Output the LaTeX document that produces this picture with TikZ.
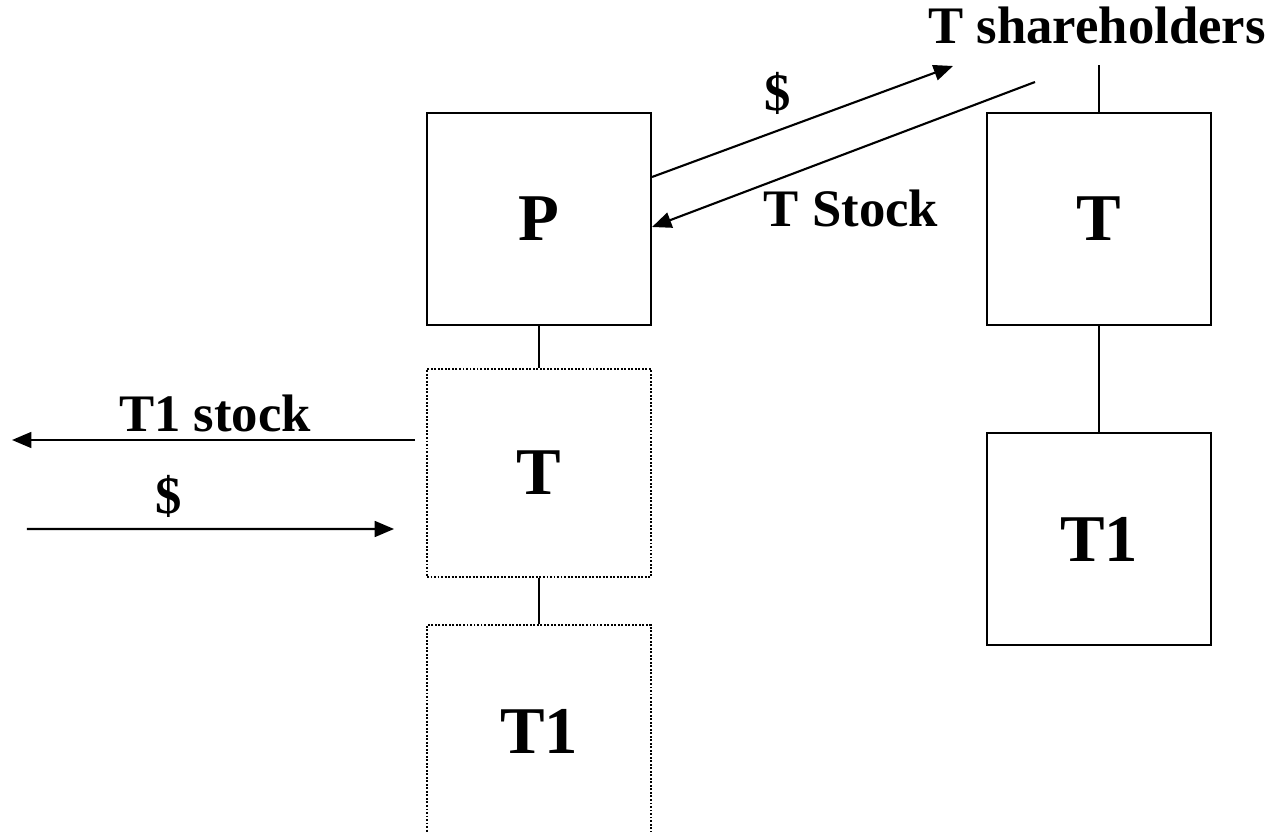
\documentclass[tikz,border=0pt]{standalone}
\usepackage{fontspec}
\setmainfont{Liberation Serif}
\usetikzlibrary{arrows.meta}

\begin{document}
\begin{tikzpicture}[
    box/.style={draw, line width=1.2pt, minimum width=4.48cm, minimum height=4.24cm, inner sep=0pt, font=\fontsize{38pt}{38pt}\selectfont\bfseries},
    dotbox/.style={box, line width=1.1pt, dash pattern=on 1.1pt off 0.9pt},
    lbl/.style={inner sep=0pt, font=\fontsize{30pt}{30pt}\selectfont\bfseries},
    link/.style={line width=1.2pt},
    flow/.style={line width=1.2pt, -{Triangle[length=11pt,width=9pt]}}
  ]
                  \useasboundingbox (0,0) rectangle (25.4,16.62);
                  % P box top left
                  \node [box] (P) at (10.78,12.24) {P};
                  % T box top right
                  \node [box] (Tr) at (21.98,12.24) {T};
                  % T1 box bottom right
                  \node [box] (T1r) at (21.98,5.84) {T1};
                  % dotted T box under P
                  \node [dotbox, minimum height=4.16cm] (Td) at (10.78,7.16) {T};
                  % dotted T1 box, cut off at the bottom
                  \node [dotbox] (T1d) at (10.78,2.0) {T1};
                  % shareholders top right
                  \node [lbl, anchor=base] (sh) at (21.94,15.74) {T shareholders};
                  % links between the boxes
                  \draw [link] (P.south) -- (Td.north);
                  \draw [link] (Td.south) -- (T1d.north);
                  \draw [link] (Tr.south) -- (T1r.north);
                  \draw [link, shorten >=0.4cm] (Tr.north) -- (Tr.north |- sh.south);
                  % arrows between P and the shareholders
                  \coordinate (cashend) at (19.06,15.30);
                  \coordinate (stockstart) at (20.70,14.98);
                  \draw [flow] ([yshift=0.84cm]P.east) -- (cashend);
                  \draw [flow] (stockstart) -- ([yshift=-0.16cm]P.east);
                  \node [lbl] (cashlbl) at (15.56,14.76) {\$};
                  \node [lbl] (stocklbl) at (17.02,12.46) {T Stock};
                  % arrows left of the dotted T box
                  \coordinate (soldend) at (0.24,7.82);
                  \coordinate (paidstart) at (0.54,6.04);
                  \draw [flow] ([xshift=-0.22cm,yshift=0.66cm]Td.west) -- (soldend);
                  \draw [flow] (paidstart) -- ([xshift=-0.64cm,yshift=-1.12cm]Td.west);
                  \node [lbl] (soldlbl) at (4.3,8.36) {T1 stock};
                  \node [lbl] (paidlbl) at (3.38,6.7) {\$};
\end{tikzpicture}
\end{document}
